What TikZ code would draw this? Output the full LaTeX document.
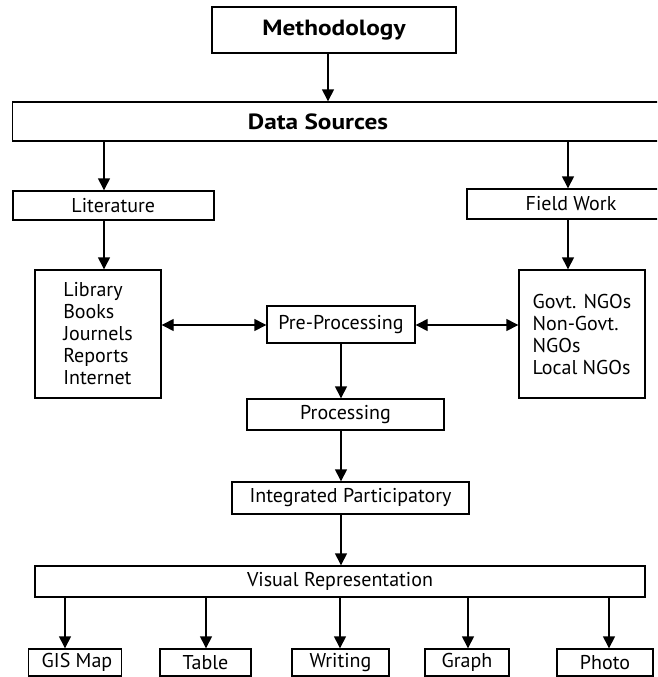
\documentclass[tikz,border=0pt]{standalone}
\usepackage{fontspec}
\setmainfont{PT Sans}
\newfontfamily\wideboldfont[FakeStretch=1.15]{PT Sans Bold}
\usetikzlibrary{arrows.meta}
\begin{document}
\begin{tikzpicture}[x=1pt,y=-1pt,
  box/.style={draw=black,line width=1.4pt,rectangle,inner sep=0pt,font=\fontsize{20}{22}\selectfont},
  title/.style={font=\fontsize{22}{24}\selectfont\wideboldfont},
  arr/.style={line width=1.4pt,-{Triangle[width=12pt,length=12pt]}},
  darr/.style={line width=1.4pt,{Triangle[width=12pt,length=12pt]}-{Triangle[width=12pt,length=12pt]}}]
\useasboundingbox (0,0) rectangle (657,677);
\clip (0,0) rectangle (657,677);
% nodes
\node[box,title,minimum width=244pt,minimum height=46pt] (meth) at (334,30) {Methodology};
\node[box,minimum width=660pt,minimum height=39pt] (ds) at (342.6,121.5) {};
\node[title,inner sep=0pt] (dst) at (318,121.5) {Data Sources};
\node[box,minimum width=201pt,minimum height=29pt] (lit) at (113.3,205.5) {Literature};
\node[box,minimum width=208pt,minimum height=30pt] (fw) at (571,204) {Field Work};
\node[box,minimum width=126pt,minimum height=128pt,align=left] (lb) at (98,334) {Library\\Books\\Journels\\Reports\\Internet};
\node[box,minimum width=126pt,minimum height=128pt,align=left] (nb) at (582,334) {Govt. NGOs\\Non-Govt.\\NGOs\\Local NGOs};
\node[box,minimum width=148pt,minimum height=37pt] (pre) at (341,324.5) {Pre-Processing};
\node[box,minimum width=197pt,minimum height=31pt] (proc) at (345.5,414.5) {Processing};
\node[box,minimum width=237pt,minimum height=32pt] (integ) at (350.5,498) {Integrated Participatory};
\node[box,minimum width=610pt,minimum height=31pt] (vis) at (340,581.5) {Visual Representation};
\node[box,minimum width=93pt,minimum height=27pt] (gis) at (75,662.5) {\hspace{4pt}GIS Map};
\node[box,minimum width=91pt,minimum height=27pt] (tab) at (205.5,662.5) {Table};
\node[box,minimum width=97pt,minimum height=27pt] (wri) at (340.5,662.5) {Writing};
\node[box,minimum width=84pt,minimum height=27pt] (gra) at (467,662.5) {Graph};
\node[box,minimum width=96pt,minimum height=27pt] (pho) at (605,662.5) {Photo};
% guide coordinates
\coordinate (xm) at (328,0);
\coordinate (xl) at (104,0);
\coordinate (xr) at (568,0);
\coordinate (xc) at (341,0);
\coordinate (y1) at (0,325);
\coordinate (b1) at (65,0);
\coordinate (b2) at (206,0);
\coordinate (b3) at (340,0);
\coordinate (b4) at (468,0);
\coordinate (b5) at (609,0);
% connectors
\draw[arr] (meth.south -| xm) -- (ds.north -| xm);
\draw[arr] (ds.south -| xl) -- (lit.north -| xl);
\draw[arr] (ds.south -| xr) -- (fw.north -| xr);
\draw[arr] (lit.south -| xl) -- (lb.north -| xl);
\draw[arr] (fw.south -| xr) -- (nb.north -| xr);
\draw[darr] (lb.east |- y1) -- (pre.west |- y1);
\draw[darr] (pre.east |- y1) -- (nb.west |- y1);
\draw[arr] (pre.south -| xc) -- (proc.north -| xc);
\draw[arr] (proc.south -| xc) -- (integ.north -| xc);
\draw[arr] (integ.south -| xc) -- (vis.north -| xc);
\draw[arr] (vis.south -| b1) -- (gis.north -| b1);
\draw[arr] (vis.south -| b2) -- (tab.north -| b2);
\draw[arr] (vis.south -| b3) -- (wri.north -| b3);
\draw[arr] (vis.south -| b4) -- (gra.north -| b4);
\draw[arr] (vis.south -| b5) -- (pho.north -| b5);
\end{tikzpicture}
\end{document}
